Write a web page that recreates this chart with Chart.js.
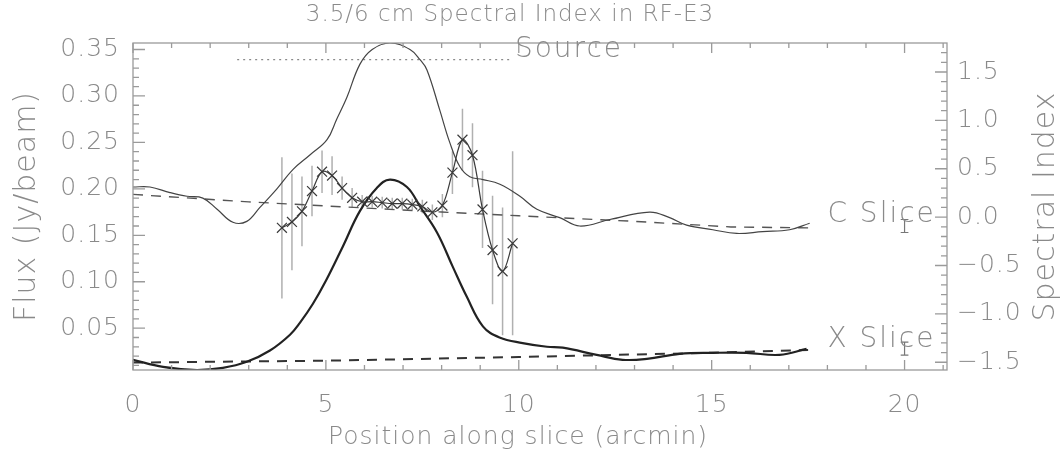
<!DOCTYPE html>
<html>
<head>
<meta charset="utf-8">
<script src="https://cdn.jsdelivr.net/npm/chart.js@4"></script>
<style>
  html, body { margin: 0; padding: 0; background: #fff; }
  #wrap { width: 1060px; height: 458px; }
</style>
</head>
<body>
<div id="wrap"><canvas id="myChart"></canvas></div>
<script>
// C slice flux profile (arcmin, Jy/beam)
const cPos = [0, 0.44, 0.96, 1.4, 1.81, 2.18, 2.59, 2.95, 3.29, 3.73, 4.15, 4.6, 5.03, 5.28, 5.54, 5.88, 6.2, 6.66,
  7.18, 7.44, 7.62, 7.95, 8.21, 8.47, 8.73, 9.07, 9.51, 10.03, 10.47, 11.06, 11.58, 12.36, 13.39, 13.91, 14.35,
  15.03, 15.65, 16.32, 17.02, 17.54];
const cFlux = [0.202, 0.202, 0.196, 0.192, 0.19, 0.178, 0.164, 0.165, 0.18, 0.2, 0.221, 0.237, 0.253, 0.275, 0.298,
  0.334, 0.35, 0.357, 0.35, 0.339, 0.328, 0.285, 0.25, 0.224, 0.213, 0.21, 0.205, 0.192, 0.178, 0.169, 0.16, 0.167,
  0.175, 0.169, 0.161, 0.156, 0.152, 0.154, 0.156, 0.163];

// X slice flux profile
const xPos = [0, 0.78, 1.66, 2.33, 2.95, 3.55, 4.07, 4.33, 4.66, 5.0, 5.44, 5.88, 6.32, 6.66, 7.1, 7.44, 7.88, 8.29,
  8.65, 9.07, 9.5, 10.1, 10.73, 11.14, 12.02, 12.69, 13.32, 14.17, 15.03, 15.9, 16.76, 17.46];
const xFlux = [0.016, 0.0084, 0.005, 0.0073, 0.0138, 0.026, 0.043, 0.056, 0.076, 0.101, 0.138, 0.176, 0.201, 0.21,
  0.202, 0.181, 0.153, 0.116, 0.084, 0.052, 0.04, 0.034, 0.03, 0.029, 0.0213, 0.016, 0.017, 0.0224, 0.0235, 0.0235,
  0.0213, 0.0278];

// background levels (dashed)
const cBgPos = [0, 3, 8, 10, 13, 15.5, 17.5];
const cBgFlux = [0.194, 0.186, 0.175, 0.171, 0.165, 0.159, 0.158];
const xBgPos = [0, 5, 10, 15, 17.5];
const xBgFlux = [0.013, 0.015, 0.019, 0.0235, 0.0265];

// source extent
const sourceRange = [2.7, 9.8];
const sourceLevel = 0.339;

// spectral index with errors
const siPos = [3.86, 4.12, 4.38, 4.64, 4.9, 5.16, 5.42, 5.68, 5.94, 6.2, 6.46, 6.72, 6.98, 7.24, 7.5, 7.76, 8.02,
  8.28, 8.54, 8.8, 9.06, 9.32, 9.58, 9.84];
const siVal = [-0.11, -0.05, 0.06, 0.27, 0.47, 0.43, 0.3, 0.2, 0.16, 0.16, 0.15, 0.14, 0.14, 0.13, 0.11, 0.05, 0.12,
  0.46, 0.8, 0.64, 0.08, -0.34, -0.56, -0.27];
const siErr = [0.73, 0.5, 0.36, 0.26, 0.22, 0.2, 0.12, 0.1, 0.07, 0.06, 0.06, 0.06, 0.06, 0.06, 0.07, 0.08, 0.12,
  0.22, 0.32, 0.33, 0.4, 0.56, 0.66, 0.95];

// typical flux errors shown at the right
const refErrPos = [20, 20];
const refErrVal = [0.16, 0.028];
const refErrSize = [0.007, 0.007];

// tick labels
const posTicks = [0, 5, 10, 15, 20];
const fluxTicks = [0.05, 0.10, 0.15, 0.20, 0.25, 0.30, 0.35];
const siTicks = [-1.5, -1.0, -0.5, 0.0, 0.5, 1.0, 1.5];

const sliceLabels = [
  { text: "C Slice", x: 18.0, y: 0.172 },
  { text: "X Slice", x: 18.0, y: 0.0375 },
  { text: "Source", x: 9.9, y: 0.35 }
];

const FONT = "'DejaVu Sans', sans-serif";
const TXT = "#8a8a8a";
const AXC = "#9a9a9a";

const pts = (xs, ys) => xs.map((x, i) => ({ x: x, y: ys[i] }));

// vertical error bars as one broken line
const siBars = [];
siPos.forEach((x, i) => {
  siBars.push({ x: x, y: siVal[i] - siErr[i] }, { x: x, y: siVal[i] + siErr[i] }, { x: x, y: null });
});
const refBars = [];
refErrPos.forEach((x, i) => {
  const lo = refErrVal[i] - refErrSize[i], hi = refErrVal[i] + refErrSize[i];
  refBars.push({ x: x, y: lo }, { x: x, y: hi }, { x: x, y: null });
  refBars.push({ x: x - 0.1, y: lo }, { x: x + 0.1, y: lo }, { x: x, y: null });
  refBars.push({ x: x - 0.1, y: hi }, { x: x + 0.1, y: hi }, { x: x, y: null });
});

const fmt = (d) => (v) => v.toFixed(d).replace("-", "\u2212");

const frameTicks = {
  id: "frameTicks",
  beforeDraw(chart) {
    chart.ctx.letterSpacing = "1px";
  },
  afterDatasetsDraw(chart) {
    const { ctx, chartArea: a, scales } = chart;
    ctx.save();
    ctx.strokeStyle = AXC;
    ctx.lineWidth = 1.3;
    ctx.strokeRect(a.left, a.top, a.right - a.left, a.bottom - a.top);
    ctx.beginPath();
    const sx = scales.x;
    for (let v = 0; v <= sx.max; v += 1) {
      const p = sx.getPixelForValue(v);
      const len = posTicks.includes(v) ? 10 : 5;
      ctx.moveTo(p, a.bottom); ctx.lineTo(p, a.bottom - len);
      ctx.moveTo(p, a.top); ctx.lineTo(p, a.top + len);
    }
    const sy = scales.y;
    for (let k = 1; k <= 35; k++) {
      const v = k / 100;
      const p = sy.getPixelForValue(v);
      const len = k % 5 === 0 ? 12 : 6;
      ctx.moveTo(a.left, p); ctx.lineTo(a.left + len, p);
    }
    const s2 = scales.y2;
    for (let k = -15; k <= 17; k++) {
      const p = s2.getPixelForValue(k / 10);
      const len = k % 5 === 0 ? 12 : 6;
      ctx.moveTo(a.right, p); ctx.lineTo(a.right - len, p);
    }
    ctx.stroke();

    ctx.fillStyle = TXT;
    ctx.textBaseline = "middle";

    ctx.letterSpacing = "1px";
    ctx.font = "200 23px " + FONT;
    ctx.textAlign = "center";
    ctx.fillText("3.5/6 cm Spectral Index in RF-E3", 510, 15);

    ctx.font = "200 25px " + FONT;
    ctx.fillText("Position along slice (arcmin)", 518, 437);

    ctx.letterSpacing = "2px";
    ctx.font = "200 28px " + FONT;
    ctx.textAlign = "left";
    sliceLabels.forEach((l) => {
      ctx.fillText(l.text, sx.getPixelForValue(l.x), sy.getPixelForValue(l.y));
    });

    ctx.letterSpacing = "1px";
    ctx.font = "200 30px " + FONT;
    ctx.translate(1046, (a.top + a.bottom) / 2);
    ctx.rotate(-Math.PI / 2);
    ctx.textAlign = "center";
    ctx.fillText("Spectral Index", 0, 0);
    ctx.restore();
  }
};

const data = {
  datasets: [
    { data: pts(siPos, siVal), yAxisID: "y2", borderColor: "#3a3a3a", borderWidth: 1.2, tension: 0.35,
      pointStyle: "crossRot", pointRadius: 7, pointBorderColor: "#3a3a3a", pointBorderWidth: 1.2, order: 1 },
    { data: pts(xPos, xFlux), yAxisID: "y", borderColor: "#222", borderWidth: 2.2, tension: 0.4, pointRadius: 0, order: 2 },
    { data: pts(cPos, cFlux), yAxisID: "y", borderColor: "#444", borderWidth: 1.2, tension: 0.4, pointRadius: 0, order: 3 },
    { data: pts(cBgPos, cBgFlux), yAxisID: "y", borderColor: "#555", borderWidth: 1.4, borderDash: [10, 8], pointRadius: 0, order: 4 },
    { data: pts(xBgPos, xBgFlux), yAxisID: "y", borderColor: "#333", borderWidth: 2, borderDash: [10, 8], pointRadius: 0, order: 5 },
    { data: pts(sourceRange, [sourceLevel, sourceLevel]), yAxisID: "y", borderColor: "#8a8a8a", borderWidth: 1.2,
      borderDash: [2, 4], pointRadius: 0, order: 6 },
    { data: siBars, yAxisID: "y2", borderColor: "#b0b0b0", borderWidth: 1.5, spanGaps: false, pointRadius: 0, order: 7 },
    { data: refBars, yAxisID: "y", borderColor: "#777", borderWidth: 1.2, spanGaps: false, pointRadius: 0, order: 8 }
  ]
};

const tickFont = { family: FONT, size: 25, weight: "200" };

const config = {
  type: "line",
  data: data,
  options: {
    responsive: true,
    maintainAspectRatio: false,
    animation: false,
    layout: { padding: { top: 43, left: 0, right: 0, bottom: 0 }, autoPadding: false },
    plugins: {
      legend: { display: false },
      tooltip: { enabled: false }
    },
    scales: {
      x: {
        type: "linear", position: "bottom", min: 0, max: 21.1,
        afterBuildTicks: (s) => { s.ticks = posTicks.map((v) => ({ value: v })); },
        afterFit: (s) => { s.height = 88; },
        ticks: { color: TXT, font: tickFont, padding: 20, maxRotation: 0, callback: fmt(0) },
        grid: { display: false, drawTicks: false },
        border: { display: false }
      },
      y: {
        type: "linear", position: "left", min: 0.005, max: 0.357,
        afterBuildTicks: (s) => { s.ticks = fluxTicks.map((v) => ({ value: v })); },
        afterFit: (s) => { s.width = 133; },
        ticks: { color: TXT, font: tickFont, padding: 13, callback: fmt(2) },
        grid: { display: false, drawTicks: false },
        border: { display: false },
        title: { display: true, text: "Flux (Jy/beam)", color: TXT,
          font: { family: FONT, size: 30, weight: "200" }, padding: { top: 9, bottom: 0 } }
      },
      y2: {
        type: "linear", position: "right", min: -1.58, max: 1.80,
        afterBuildTicks: (s) => { s.ticks = siTicks.map((v) => ({ value: v })); },
        afterFit: (s) => { s.width = 113; },
        ticks: { color: TXT, font: tickFont, padding: 10, callback: fmt(1) },
        grid: { display: false, drawTicks: false },
        border: { display: false }
      }
    }
  },
  plugins: [frameTicks]
};

const myChart = new Chart(document.getElementById("myChart"), config);
</script>
</body>
</html>
